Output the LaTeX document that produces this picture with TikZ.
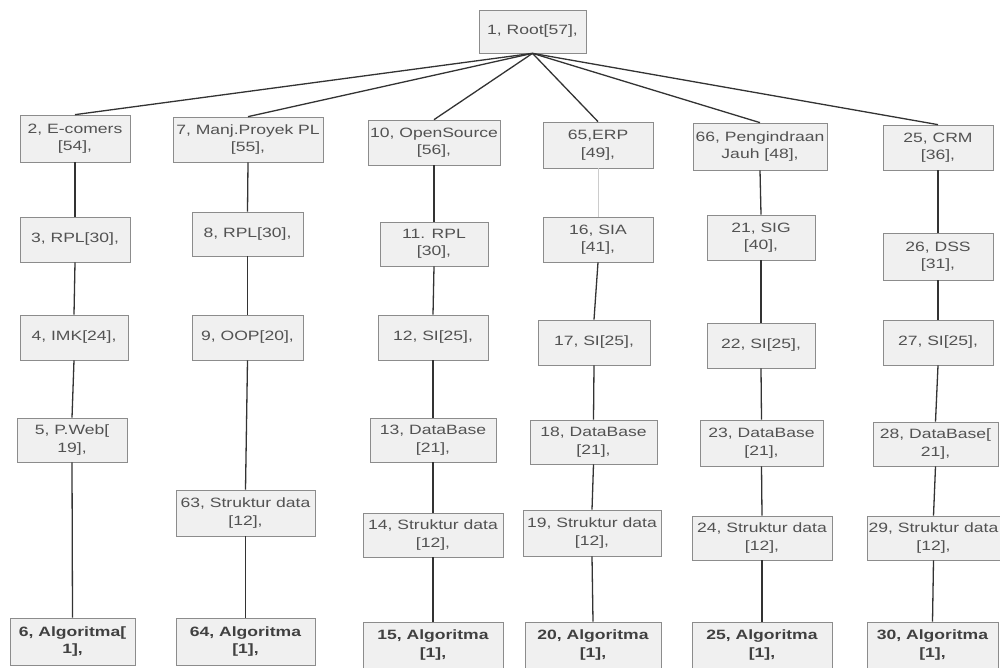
\documentclass[tikz,border=0pt]{standalone}
\usepackage{fontspec}
\setmainfont[FakeStretch=1.3]{Liberation Sans}
\begin{document}
\begin{tikzpicture}[x=1pt,y=-1pt,
  box/.style={draw=black!45, fill=black!6, line width=0.7pt, align=center,
    inner sep=1pt, text=black!68, font=\fontsize{13.5}{17.5}\selectfont},
  leaf/.style={box, font=\fontsize{13.5}{17.5}\selectfont\bfseries, text=black!75},
  link/.style={draw=black!80, line width=1.3pt},
  faint/.style={draw=black!20, line width=1pt}]
\useasboundingbox (0,0) rectangle (1000,668);
\fill[white] (0,0) rectangle (1000,668);

% root
\node[box, minimum width=107pt, minimum height=43pt] (n1) at (532.5,31.5) {1, Root[57],};

% first level
\node[box, minimum width=110pt, minimum height=47pt] (n2)  at (75,138.5)  {2, E-comers\\{}[54],};
\node[box, minimum width=150pt, minimum height=45pt] (n7)  at (248,139.5) {7, Manj.Proyek PL\\{}[55],};
\node[box, minimum width=132pt, minimum height=45pt] (n10) at (434,142.5) {10, OpenSource\\{}[56],};
\node[box, minimum width=110pt, minimum height=46pt] (n65) at (598,145)   {65,ERP\\{}[49],};
\node[box, minimum width=134pt, minimum height=47pt] (n66) at (760,146.5) {66, Pengindraan\\Jauh [48],};
\node[box, minimum width=110pt, minimum height=45pt] (n25) at (938,147.5) {25, CRM\\{}[36],};

% second level
\node[box, minimum width=110pt, minimum height=45pt] (n3)  at (75,239.5)  {3, RPL[30],};
\node[box, minimum width=111pt, minimum height=44pt] (n8)  at (247.5,234) {8, RPL[30],};
\node[box, minimum width=108pt, minimum height=44pt] (n11) at (434,244)   {11. RPL\\{}[30],};
\node[box, minimum width=110pt, minimum height=45pt] (n16) at (598,239.5) {16, SIA\\{}[41],};
\node[box, minimum width=108pt, minimum height=45pt] (n21) at (761,237.5) {21, SIG\\{}[40],};
\node[box, minimum width=110pt, minimum height=47pt] (n26) at (938,256.5) {26, DSS\\{}[31],};

% third level
\node[box, minimum width=108pt, minimum height=45pt] (n4)  at (74,337.5)    {4, IMK[24],};
\node[box, minimum width=111pt, minimum height=45pt] (n9)  at (247.5,337.5) {9, OOP[20],};
\node[box, minimum width=110pt, minimum height=45pt] (n12) at (433,337.5)   {12, SI[25],};
\node[box, minimum width=112pt, minimum height=45pt] (n17) at (594,342.5)   {17, SI[25],};
\node[box, minimum width=108pt, minimum height=45pt] (n22) at (761,345.5)   {22, SI[25],};
\node[box, minimum width=110pt, minimum height=45pt] (n27) at (938,342.5)   {27, SI[25],};

% fourth level
\node[box, minimum width=110pt, minimum height=44pt] (n5)  at (72,440)    {5, P.Web[\\19],};
\node[box, minimum width=126pt, minimum height=44pt] (n13) at (433,440)   {13, DataBase\\{}[21],};
\node[box, minimum width=127pt, minimum height=44pt] (n18) at (593.5,442) {18, DataBase\\{}[21],};
\node[box, minimum width=123pt, minimum height=46pt] (n23) at (761.5,443) {23, DataBase\\{}[21],};
\node[box, minimum width=125pt, minimum height=44pt] (n28) at (935.5,444) {28, DataBase[\\21],};

% fifth level
\node[box, minimum width=139pt, minimum height=46pt] (n63) at (245.5,513) {63, Struktur data\\{}[12],};
\node[box, minimum width=140pt, minimum height=44pt] (n14) at (433,535)   {14, Struktur data\\{}[12],};
\node[box, minimum width=138pt, minimum height=46pt] (n19) at (592,533)   {19, Struktur data\\{}[12],};
\node[box, minimum width=140pt, minimum height=44pt] (n24) at (762,538)   {24, Struktur data\\{}[12],};
\node[box, minimum width=133pt, minimum height=44pt] (n29) at (933.5,538) {29, Struktur data\\{}[12],};

% leaves
\node[leaf, minimum width=125pt, minimum height=47pt] (n6)  at (72.5,641.5)  {6, Algoritma[\\1],};
\node[leaf, minimum width=139pt, minimum height=47pt] (n64) at (245.5,641.5) {64, Algoritma\\{}[1],};
\node[leaf, minimum width=140pt, minimum height=46pt] (n15) at (433,645)     {15, Algoritma\\{}[1],};
\node[leaf, minimum width=136pt, minimum height=46pt] (n20) at (593,645)     {20, Algoritma\\{}[1],};
\node[leaf, minimum width=140pt, minimum height=46pt] (n30b) at (762,645)    {25, Algoritma\\{}[1],};
\node[leaf, minimum width=131pt, minimum height=46pt] (n30) at (932.5,645)   {30, Algoritma\\{}[1],};

% root fan-out
\foreach \c in {n2,n7,n10,n65,n66,n25}
  \draw[link] (n1.south) -- (\c.north);

% columns
\draw[link] (n2.south) -- (n3.north);
\draw[link] (n3.south) -- (n4.north);
\draw[link] (n4.south) -- (n5.north);
\draw[link] (n5.south) -- (n6.north);

\draw[link] (n7.south) -- (n8.north);
\draw[link] (n8.south) -- (n9.north);
\draw[link] (n9.south) -- (n63.north);
\draw[link] (n63.south) -- (n64.north);

\draw[link] (n10.south) -- (n11.north);
\draw[link] (n11.south) -- (n12.north);
\draw[link] (n12.south) -- (n13.north);
\draw[link] (n13.south) -- (n14.north);
\draw[link] (n14.south) -- (n15.north);

\draw[faint] (n65.south) -- (n16.north);
\draw[link] (n16.south) -- (n17.north);
\draw[link] (n17.south) -- (n18.north);
\draw[link] (n18.south) -- (n19.north);
\draw[link] (n19.south) -- (n20.north);

\draw[link] (n66.south) -- (n21.north);
\draw[link] (n21.south) -- (n22.north);
\draw[link] (n22.south) -- (n23.north);
\draw[link] (n23.south) -- (n24.north);
\draw[link] (n24.south) -- (n30b.north);

\draw[link] (n25.south) -- (n26.north);
\draw[link] (n26.south) -- (n27.north);
\draw[link] (n27.south) -- (n28.north);
\draw[link] (n28.south) -- (n29.north);
\draw[link] (n29.south) -- (n30.north);
\end{tikzpicture}
\end{document}
